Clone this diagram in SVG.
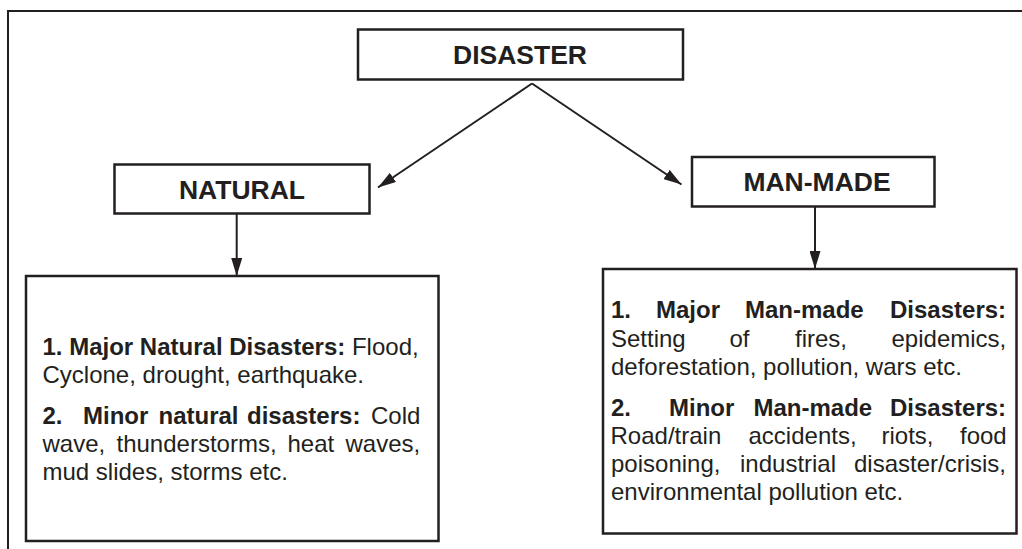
<svg xmlns="http://www.w3.org/2000/svg" width="1022" height="549" viewBox="0 0 1022 549">
<defs>
<style>
.box{fill:#fff;stroke:#231f20;stroke-width:2.5}
.frame{fill:none;stroke:#231f20;stroke-width:2}
.edge{fill:none;stroke:#231f20;stroke-width:2}
.title{font-family:"Liberation Sans",Arial,sans-serif;font-weight:bold;font-size:26.5px;fill:#231f20;text-anchor:middle}
.body{font-family:"Liberation Sans",Arial,sans-serif;font-size:24px;fill:#231f20}
.b{font-weight:bold}
</style>
<marker id="arr" viewBox="0 0 18 11" refX="18" refY="5.5" markerWidth="18" markerHeight="11" markerUnits="userSpaceOnUse" orient="auto">
<path d="M0,0 L18,5.5 L0,11 Z" fill="#231f20"/>
</marker>
</defs>
<rect width="1022" height="549" fill="#fff"/>
<path class="frame" d="M8,549 V11 H1022"/>
<g id="connectors">
<path class="edge" d="M532,83.5 L378,187.5" marker-end="url(#arr)"/>
<path class="edge" d="M532,83.5 L681.5,184.5" marker-end="url(#arr)"/>
<path class="edge" d="M236.7,214 V276" marker-end="url(#arr)"/>
<path class="edge" d="M815,207 V269" marker-end="url(#arr)"/>
</g>
<g id="disaster">
<rect class="box" x="358" y="29.5" width="325" height="50"/>
<text class="title" x="520" y="64">DISASTER</text>
</g>
<g id="natural">
<rect class="box" x="114.5" y="164.5" width="255" height="49"/>
<text class="title" x="242" y="199.3">NATURAL</text>
</g>
<g id="man-made">
<rect class="box" x="692" y="157" width="242.5" height="49.5"/>
<text class="title" x="817" y="191">MAN-MADE</text>
</g>
<g id="natural-details">
<rect class="box" x="26" y="276" width="412.5" height="265"/>
<text class="body" x="42.5" y="355"><tspan class="b">1. Major Natural Disasters:</tspan> Flood,</text>
<text class="body" x="42.5" y="383.3">Cyclone, drought, earthquake.</text>
<text class="body" y="424.3"><tspan class="b" x="42.5">2.</tspan><tspan class="b" x="83">Minor</tspan><tspan class="b" x="158.5">natural</tspan><tspan class="b" x="247">disasters:</tspan><tspan x="371">Cold</tspan></text>
<text class="body" y="452.3"><tspan x="42.5">wave,</tspan><tspan x="116.5">thunderstorms,</tspan><tspan x="287.5">heat</tspan><tspan x="345.5">waves,</tspan></text>
<text class="body" x="42.5" y="480">mud slides, storms etc.</text>
</g>
<g id="man-made-details">
<rect class="box" x="603" y="269" width="413.5" height="264.5"/>
<text class="body b" y="318.3"><tspan x="611">1.</tspan><tspan x="656">Major</tspan><tspan x="745">Man-made</tspan><tspan x="890">Disasters:</tspan></text>
<text class="body" y="346.7"><tspan x="611">Setting</tspan><tspan x="729.5">of</tspan><tspan x="795">fires,</tspan><tspan x="891.5">epidemics,</tspan></text>
<text class="body" x="611" y="375">deforestation, pollution, wars etc.</text>
<text class="body b" y="416"><tspan x="611">2.</tspan><tspan x="669">Minor</tspan><tspan x="753.5">Man-made</tspan><tspan x="890">Disasters:</tspan></text>
<text class="body" y="444"><tspan x="610.5">Road/train</tspan><tspan x="748.5">accidents,</tspan><tspan x="881.5">riots,</tspan><tspan x="960">food</tspan></text>
<text class="body" y="472.3"><tspan x="611">poisoning,</tspan><tspan x="740">industrial</tspan><tspan x="854">disaster/crisis,</tspan></text>
<text class="body" x="611" y="500">environmental pollution etc.</text>
</g>
</svg>
